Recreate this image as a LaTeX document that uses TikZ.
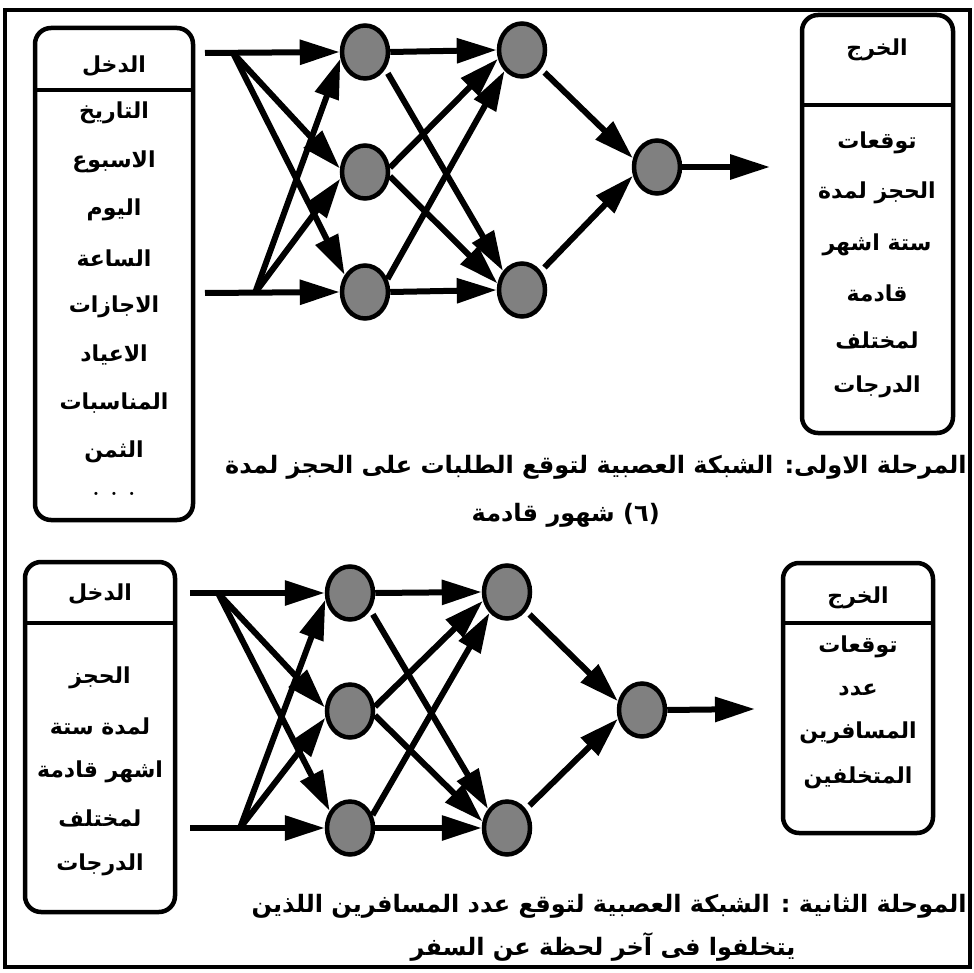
\documentclass[tikz,border=0pt]{standalone}
\usepackage{fontspec}
\usetikzlibrary{arrows.meta,shapes.geometric}
\newfontfamily\arabicfont[Script=Arabic]{DejaVu Sans}
\TeXXeTstate=1
\newcommand{\artxt}[1]{{\arabicfont\bfseries\beginR #1\endR}}
\begin{document}
\begin{tikzpicture}[x=1pt,y=-1pt,
  frameline/.style={line width=3.5pt},
  panel/.style={draw, line width=4.5pt, rounded corners=16pt},
  divider/.style={line width=4.5pt},
  neuron/.style={ellipse, draw, line width=4.5pt, fill=black!50, minimum width=46pt, minimum height=53pt, inner sep=0pt},
  link/.style={line width=6pt, -{Triangle[length=40pt,width=24pt]}},
  lbl/.style={font=\fontsize{22}{25}\selectfont, inner sep=0pt},
  captxt/.style={font=\fontsize{24}{27}\selectfont, inner sep=0pt},
]
\useasboundingbox (0,0) rectangle (974,973);
\draw[frameline] (5,10) rectangle (970,967);

% ---------- top stage ----------
\draw[panel] (35,28) rectangle (193,520);
\draw[divider] (35,90) -- (193,90);
\node[lbl] (tinT) at (114,66) {\artxt{الدخل}};
\node[lbl] (tin1) at (114,113) {\artxt{التاريخ}};
\node[lbl] (tin2) at (114,162) {\artxt{الاسبوع}};
\node[lbl] (tin3) at (114,210) {\artxt{اليوم}};
\node[lbl] (tin4) at (114,258) {\artxt{الساعة}};
\node[lbl] (tin5) at (114,307) {\artxt{الاجازات}};
\node[lbl] (tin6) at (114,355) {\artxt{الاعياد}};
\node[lbl] (tin7) at (114,403) {\artxt{المناسبات}};
\node[lbl] (tin8) at (114,452) {\artxt{الثمن}};
\node[lbl] (tin9) at (114,494) {\bfseries . . .};

\draw[panel] (802,15) rectangle (953,433);
\draw[divider] (802,105) -- (953,105);
\node[lbl] (toutT) at (877,50) {\artxt{الخرج}};
\node[lbl] (tout1) at (877,143) {\artxt{توقعات}};
\node[lbl] (tout2) at (877,193) {\artxt{الحجز لمدة}};
\node[lbl] (tout3) at (877,245) {\artxt{ستة اشهر}};
\node[lbl] (tout4) at (877,293) {\artxt{قادمة}};
\node[lbl] (tout5) at (877,340) {\artxt{لمختلف}};
\node[lbl] (tout6) at (877,387) {\artxt{الدرجات}};

\node[neuron] (n11) at (365,52) {};
\node[neuron] (n12) at (365,172) {};
\node[neuron] (n13) at (365,292) {};
\node[neuron] (n21) at (522,50) {};
\node[neuron] (n22) at (522,290) {};
\node[neuron] (no) at (657,167) {};
\coordinate (ia1) at (205,53);
\coordinate (ba1) at (233,53);
\coordinate (ia2) at (205,293);
\coordinate (ba2) at (255,293);
\coordinate (tend) at (770,167);

\draw[link] (ia1) -- (n11.west);
\draw[link] (ba1) -- (n12.172);
\draw[link] (ba1) -- (n13.140);
\draw[link] (ba2) -- (n11.195);
\draw[link] (ba2) -- (n12.195);
\draw[link] (ia2) -- (n13.west);
\draw[link] (n11.east) -- (n21.west);
\draw[link, shorten <=5pt] (n11.-40) -- (n22.135);
\draw[link] (n12.10) -- (n21.200);
\draw[link] (n12.-10) -- (n22.165);
\draw[link] (n13.30) -- (n21.230);
\draw[link] (n13.east) -- (n22.west);
\draw[link, shorten <=5pt] (n21.-45) -- (no.160);
\draw[link, shorten <=5pt] (n22.45) -- (no.200);
\draw[link] (no.east) -- (tend);

\node[captxt, anchor=east] (cap1a) at (967,467) {\artxt{المرحلة الاولى: الشبكة العصبية لتوقع الطلبات على الحجز لمدة}};
\node[captxt, anchor=east] (cap1b) at (660,515) {\artxt{(٦) شهور قادمة}};

% ---------- bottom stage ----------
\draw[panel] (25,562) rectangle (175,912);
\draw[divider] (25,623) -- (175,623);
\node[lbl] (binT) at (100,594) {\artxt{الدخل}};
\node[lbl] (bin1) at (100,678) {\artxt{الحجز}};
\node[lbl] (bin2) at (100,726) {\artxt{لمدة ستة}};
\node[lbl] (bin3) at (100,772) {\artxt{اشهر قادمة}};
\node[lbl] (bin4) at (100,818) {\artxt{لمختلف}};
\node[lbl] (bin5) at (100,865) {\artxt{الدرجات}};

\draw[panel] (783,563) rectangle (933,833);
\draw[divider] (783,623) -- (933,623);
\node[lbl] (boutT) at (858,598) {\artxt{الخرج}};
\node[lbl] (bout1) at (858,647) {\artxt{توقعات}};
\node[lbl] (bout2) at (858,690) {\artxt{عدد}};
\node[lbl] (bout3) at (858,733) {\artxt{المسافرين}};
\node[lbl] (bout4) at (858,778) {\artxt{المتخلفين}};

\node[neuron] (m11) at (350,593) {};
\node[neuron] (m12) at (350,711) {};
\node[neuron] (m13) at (350,828) {};
\node[neuron] (m21) at (507,592) {};
\node[neuron] (m22) at (507,828) {};
\node[neuron] (mo) at (642,710) {};
\coordinate (ja1) at (190,593);
\coordinate (bb1) at (218,593);
\coordinate (ja2) at (190,828);
\coordinate (bb2) at (240,828);
\coordinate (bend) at (755,709);

\draw[link] (ja1) -- (m11.west);
\draw[link] (bb1) -- (m12.172);
\draw[link] (bb1) -- (m13.140);
\draw[link] (bb2) -- (m11.195);
\draw[link] (bb2) -- (m12.195);
\draw[link] (ja2) -- (m13.west);
\draw[link] (m11.east) -- (m21.west);
\draw[link, shorten <=5pt] (m11.-40) -- (m22.135);
\draw[link] (m12.10) -- (m21.200);
\draw[link] (m12.-10) -- (m22.165);
\draw[link] (m13.30) -- (m21.230);
\draw[link] (m13.east) -- (m22.west);
\draw[link, shorten <=5pt] (m21.-45) -- (mo.160);
\draw[link, shorten <=5pt] (m22.45) -- (mo.200);
\draw[link] (mo.east) -- (bend);

\node[captxt, anchor=east] (cap2a) at (967,906) {\artxt{الموحلة الثانية : الشبكة العصبية لتوقع عدد المسافرين اللذين}};
\node[captxt] (cap2b) at (603,947) {\artxt{يتخلفوا فى آخر لحظة عن السفر}};
\end{tikzpicture}
\end{document}
